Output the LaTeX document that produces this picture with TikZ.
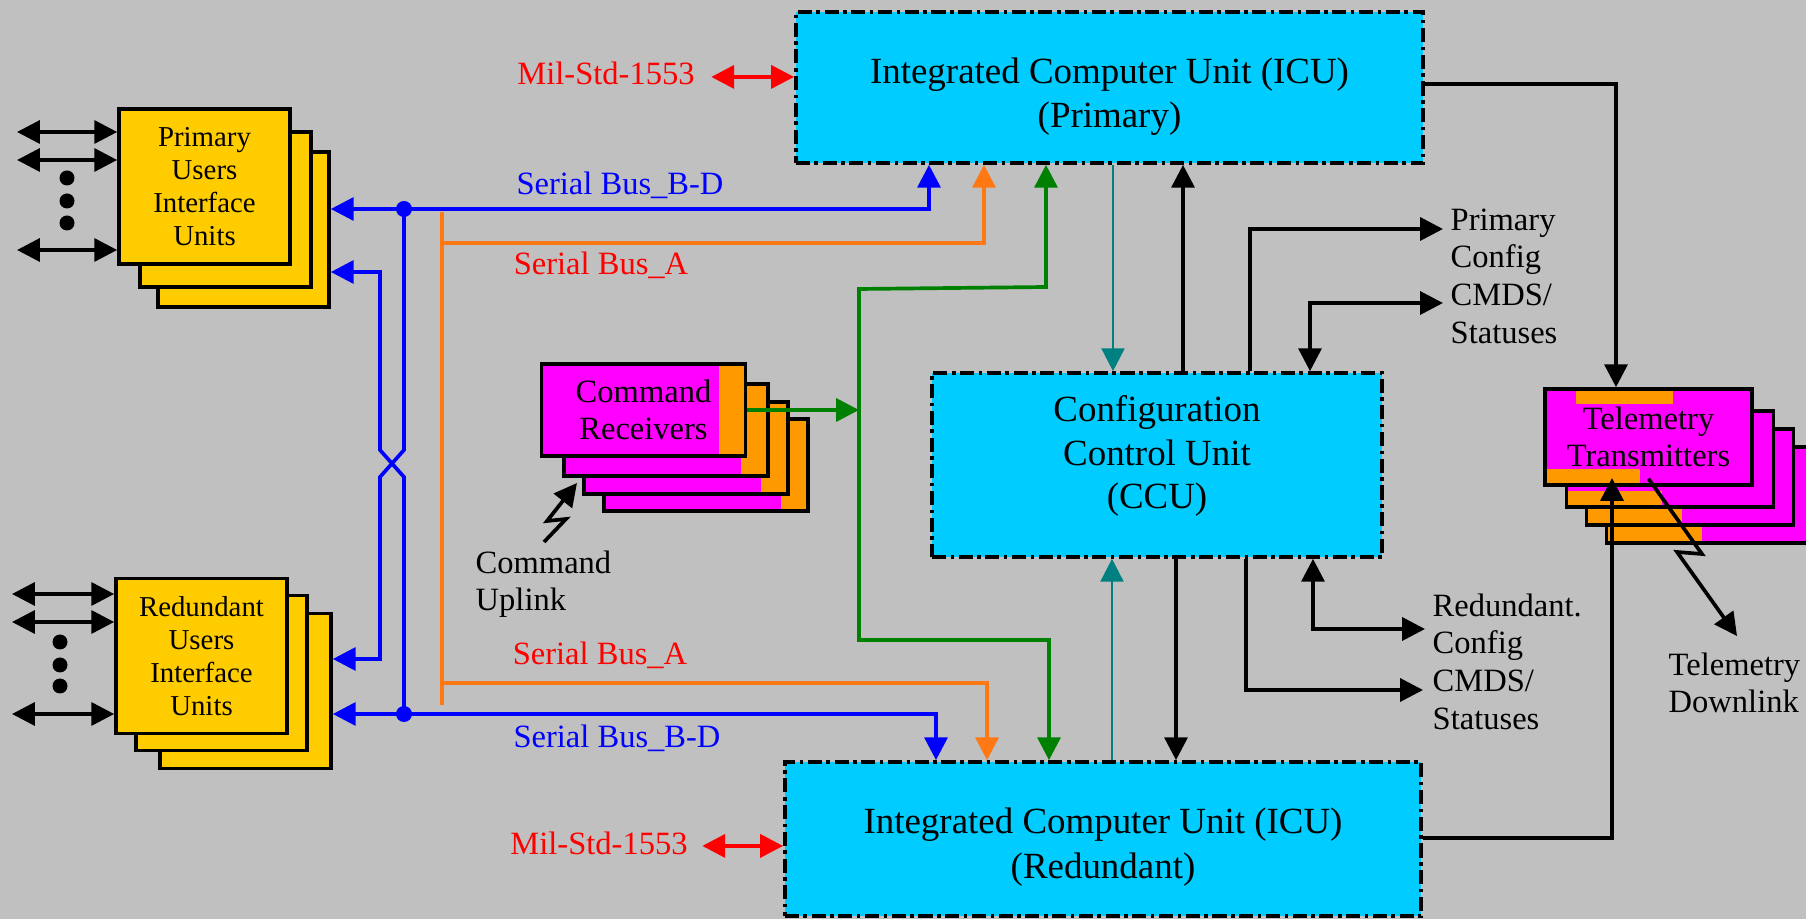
\documentclass[tikz,border=0pt]{standalone}
\usepackage{fontspec}
\setmainfont{Liberation Serif}
\usetikzlibrary{arrows.meta}
\definecolor{bgSilver}{RGB}{192,192,192}
\definecolor{unitGold}{RGB}{255,204,0}
\definecolor{icuCyan}{RGB}{0,204,255}
\definecolor{rfMagenta}{RGB}{255,0,255}
\definecolor{rfOrange}{RGB}{255,153,0}
\definecolor{busOrange}{RGB}{255,120,20}
\definecolor{busGreen}{RGB}{0,128,0}
\definecolor{ccuTeal}{RGB}{0,128,128}
\tikzset{
  unitbox/.style={draw,line width=1pt,fill=unitGold,minimum width=1.71cm,minimum height=1.55cm,
    inner sep=0pt,align=center,font=\fontsize{8.2}{9.4}\selectfont},
  ctrlbox/.style={draw,line width=1pt,fill=icuCyan,dash pattern=on 4pt off 1.3pt on 1pt off 1.3pt},
  ctrltext/.style={inner sep=0pt,align=center,font=\fontsize{10.5}{12.6}\selectfont},
  rxbox/.style={draw,line width=1pt,fill=rfMagenta,minimum width=2.04cm,minimum height=0.92cm,
    inner sep=0pt,align=center,font=\fontsize{9.25}{10.7}\selectfont,
    path picture={\fill[rfOrange] ([xshift=-0.27cm]path picture bounding box.north east)
      rectangle (path picture bounding box.south east);}},
  txbox/.style={draw,line width=1pt,fill=rfMagenta,minimum width=2.07cm,minimum height=0.96cm,
    inner sep=0pt,align=center,font=\fontsize{9.25}{10.7}\selectfont,
    path picture={\fill[rfOrange] ([xshift=0.31cm]path picture bounding box.north west)
        rectangle ([xshift=1.28cm,yshift=-0.15cm]path picture bounding box.north west);
      \fill[rfOrange] (path picture bounding box.south west)
        rectangle ([xshift=0.95cm,yshift=0.16cm]path picture bounding box.south west);}},
  lbl/.style={inner sep=0pt,align=left,font=\fontsize{9.25}{10.7}\selectfont},
  wire/.style={line width=1.05pt}
}

\begin{document}
\begin{tikzpicture}[x=0.01cm,y=-0.01cm,>={Triangle[length=6.5pt,width=6.5pt]}]
	\fill[bgSilver] (0,0) rectangle (1806,919);
	\useasboundingbox (0,0) rectangle (1806,919);

	\foreach \n/\dx/\dy in {3/39/43,2/21/23} \node[unitbox] (pu\n) at (204.5+\dx,186.5+\dy) {};
	\node[unitbox] (pu1) at (204.5,186.5) {Primary\\Users\\Interface\\Units};
	\foreach \n/\dx/\dy in {3/44/35,2/20/17} \node[unitbox] (ru\n) at (201.5+\dx,656+\dy) {};
	\node[unitbox] (ru1) at (201.5,656) {Redundant\\Users\\Interface\\Units};

	\node[ctrlbox,minimum width=6.27cm,minimum height=1.51cm] (icup) at (1109.5,87.5) {};
	\node[ctrltext] (icuptext) at (1109.5,97) {Integrated Computer Unit (ICU)\\(Primary)};
	\node[ctrlbox,minimum width=6.36cm,minimum height=1.54cm] (icur) at (1103,839) {};
	\node[ctrltext] (icurtext) at (1103,847) {Integrated Computer Unit (ICU)\\(Redundant)};
	\node[ctrlbox,minimum width=4.5cm,minimum height=1.84cm] (ccu) at (1157,465) {};
	\node[ctrltext,font=\fontsize{10.5}{12.4}\selectfont] (ccutext) at (1157,456) {Configuration\\Control Unit\\(CCU)};

	\foreach \n/\x/\y in {4/706/465,3/686/448,2/666/430} \node[rxbox] (cr\n) at (\x,\y) {};
	\node[rxbox] (cr1) at (643.5,410) {Command\\Receivers};
	\foreach \n/\x/\y in {4/1710/495,3/1690/477,2/1670/459} \node[txbox] (tx\n) at (\x,\y) {};
	\node[txbox] (tx1) at (1648.5,437) {Telemetry\\Transmitters};

	\node[lbl,blue,anchor=base] (sbdp) at (620,195) {Serial Bus\_B-D};
	\node[lbl,red,anchor=base] (sap) at (601,275) {Serial Bus\_A};
	\node[lbl,red,anchor=base] (sar) at (600,665) {Serial Bus\_A};
	\node[lbl,blue,anchor=base] (sbdr) at (617,748) {Serial Bus\_B-D};
	\node[lbl,red,anchor=base] (milp) at (606,85) {Mil-Std-1553};
	\node[lbl,red,anchor=base] (milr) at (599,854) {Mil-Std-1553};
	\node[lbl,anchor=north west] (pcfg) at (1450,208) {Primary\\Config\\CMDS/\\Statuses};
	\node[lbl,anchor=north west] (rcfg) at (1432,593) {Redundant.\\Config\\CMDS/\\Statuses};
	\node[lbl,anchor=north west] (uplnk) at (475,550) {Command\\Uplink};
	\node[lbl,anchor=north west] (dnlnk) at (1668,652) {Telemetry\\Downlink};

	\coordinate (bdp) at (404,209);
	\coordinate (bdr) at (404,714);
	\coordinate (atop) at (442,212);
	\coordinate (abot) at (442,705);
	\coordinate (pcfgA) at (1443,229);
	\coordinate (pcfgB) at (1443,303);
	\coordinate (rcfgA) at (1425,629);
	\coordinate (rcfgB) at (1423,690);
	\coordinate (txin) at (1612,478);
	\coordinate (upsrc) at (544,542);
	\coordinate (dndst) at (1737,636);

	\foreach \y in {132,160,250} \draw[wire,<->] (17,\y) -- (pu1.west |- 0,\y);
	\foreach \y in {594,622,714} \draw[wire,<->] (12,\y) -- (ru1.west |- 0,\y);
	\foreach \y in {178,201,223} \fill (67,\y) circle (7.5);
	\foreach \y in {642,665,686} \fill (60,\y) circle (7.5);

	\draw[wire,blue,<->] (pu3.east |- bdp) -| (icup.south -| 929,0);
	\draw[wire,blue,<->] (ru3.east |- bdr) -| (icur.north -| 936,0);
	\draw[wire,blue,->] (bdp) -- (404,450) -- (380,477) -- (380,659) -- (ru3.east |- 0,659);
	\draw[wire,blue,<-] (pu3.east |- 0,272) -- (380,272) -- (380,450) -- (404,477) -- (bdr);
	\fill[blue] (bdp) circle (8);
	\fill[blue] (bdr) circle (8);

	\draw[wire,busOrange] (atop) -- (abot);
	\draw[wire,busOrange,->] (atop |- 0,243) -| (icup.south -| 984,0);
	\draw[wire,busOrange,->] (atop |- 0,683) -| (icur.north -| 987,0);

	\draw[wire,busGreen,<->] (icup.south -| 1046,0) -- (1046,287) -- (859,289) -- (859,640) -- (1049,640) -- (icur.north -| 1049,0);
	\draw[wire,busGreen,->] (cr1.east) -- (cr1.east -| 859,0);

	\draw[line width=0.75pt,ccuTeal,->] (icup.south -| 1113,0) -- (ccu.north -| 1113,0);
	\draw[line width=0.75pt,ccuTeal,->] (icur.north -| 1112,0) -- (ccu.south -| 1112,0);

	\draw[wire,->] (ccu.north -| 1183,0) -- (icup.south -| 1183,0);
	\draw[wire,->] (ccu.south -| 1176,0) -- (icur.north -| 1176,0);
	\draw[wire,->] (ccu.north -| 1250,0) |- (pcfgA);
	\draw[wire,<->] (ccu.north -| 1310,0) |- (pcfgB);
	\draw[wire,->] (ccu.south -| 1246,0) |- (rcfgB);
	\draw[wire,<->] (ccu.south -| 1313,0) |- (rcfgA);
	\draw[wire,->] (icup.east |- 0,84) -| (tx1.north -| 1616,0);
	\draw[wire,->] (icur.east |- 0,838) -| (txin);

	\draw[line width=1.1pt,red,<->] ([xshift=0.16cm]milp.mid east) -- (milp.mid east -| icup.west);
	\draw[line width=1.1pt,red,<->] ([xshift=0.14cm]milr.mid east) -- (milr.mid east -| icur.west);

	\draw[wire,->] (upsrc) -- (566,519) -- (547,521) -- (577,483);
	\draw[wire,->] ([yshift=0.08cm]tx1.south) -- (1702,554) -- (1677,552) -- (dndst);
\end{tikzpicture}
\end{document}
